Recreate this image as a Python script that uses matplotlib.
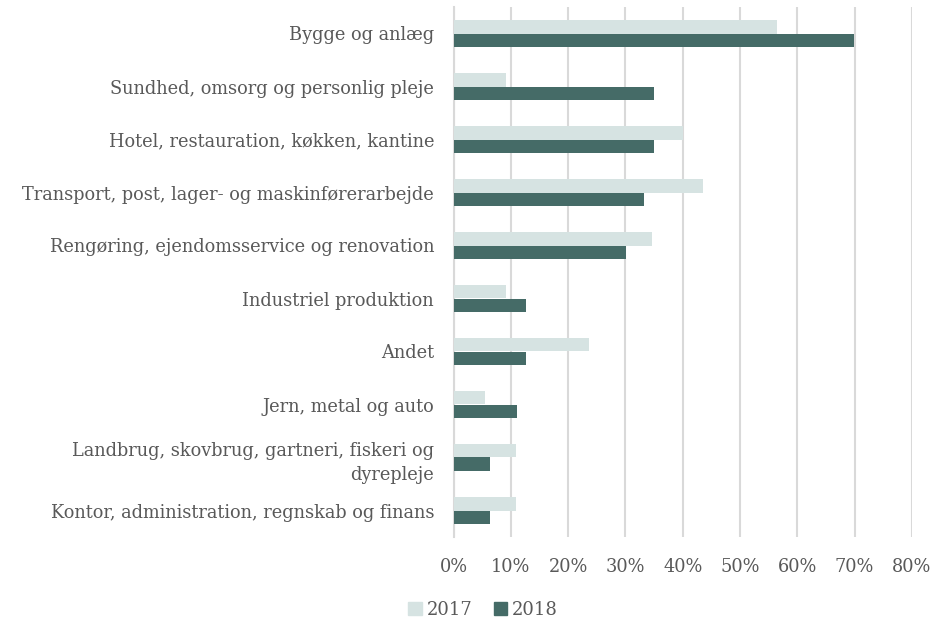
import numpy as np
import matplotlib.pyplot as plt
from matplotlib.patches import Patch

categories = [
    "Bygge og anlæg",
    "Sundhed, omsorg og personlig pleje",
    "Hotel, restauration, køkken, kantine",
    "Transport, post, lager- og maskinførerarbejde",
    "Rengøring, ejendomsservice og renovation",
    "Industriel produktion",
    "Andet",
    "Jern, metal og auto",
    "Landbrug, skovbrug, gartneri, fiskeri og\ndyrepleje",
    "Kontor, administration, regnskab og finans",
]
share_2017 = [0.564, 0.091, 0.400, 0.436, 0.346, 0.091, 0.236, 0.055, 0.109, 0.109]
share_2018 = [0.699, 0.349, 0.349, 0.333, 0.301, 0.127, 0.127, 0.111, 0.064, 0.064]
xticks = [0, 0.1, 0.2, 0.3, 0.4, 0.5, 0.6, 0.7, 0.8]

light = "#d6e3e2"
dark = "#456b67"
text_col = "#595959"

plt.rcParams["font.family"] = ["DejaVu Serif"]

fig = plt.figure(figsize=(9.51, 6.22), dpi=100)
ax = fig.add_axes([453.5 / 951, 1 - 537 / 622, (912 - 453.5) / 951, (537 - 7) / 622])

y = np.arange(len(categories))
h = 0.255
ax.barh(y - h / 2, share_2017, height=h, color=light, label="2017", zorder=3)
ax.barh(y + h / 2, share_2018, height=h, color=dark, label="2018", zorder=3)

ax.set_ylim(len(categories) - 0.5, -0.5)
ax.set_xlim(0, 0.8)
ax.set_xticks(xticks)
ax.set_xticklabels([f"{int(round(t * 100))}%" for t in xticks])
ax.set_yticks(y)
ax.set_yticklabels(categories, ha="right", multialignment="right")

ax.tick_params(axis="both", length=0, labelsize=12.75, colors=text_col)
ax.tick_params(axis="x", pad=15)
ax.tick_params(axis="y", pad=14)
for lab in ax.get_yticklabels():
    lab.set_linespacing(1.45)

ax.grid(axis="x", color="#d9d9d9", linewidth=1.5, zorder=0)
for s in ["top", "right", "bottom"]:
    ax.spines[s].set_visible(False)
ax.spines["left"].set_color("#d9d9d9")
ax.spines["left"].set_linewidth(1.5)

handles = [Patch(color=light, label="2017"), Patch(color=dark, label="2018")]
fig.legend(handles=handles, loc="center", bbox_to_anchor=(483 / 951, 1 - 610 / 622),
           ncol=2, frameon=False, fontsize=13, labelcolor=text_col,
           handlelength=0.75, handleheight=0.75, handletextpad=0.25, columnspacing=1.2)

fig.savefig("out.png", dpi=100)
